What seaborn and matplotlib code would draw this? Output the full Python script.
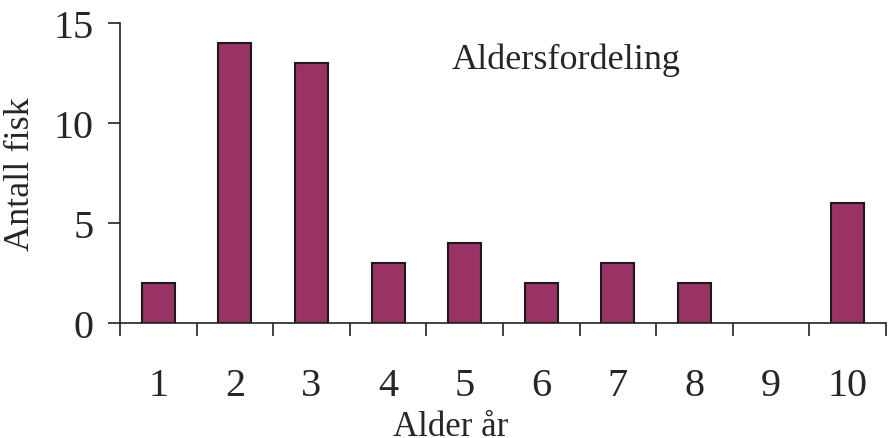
import matplotlib
matplotlib.use("Agg")
import matplotlib.pyplot as plt
import seaborn as sns
import pandas as pd
import numpy as np

ages = ["1", "2", "3", "4", "5", "6", "7", "8", "9", "10"]
counts = [2, 14, 13, 3, 4, 2, 3, 2, 0, 6]
yticks = [0, 5, 10, 15]
title = "Aldersfordeling"
xlabel = "Alder år"
ylabel = "Antall fisk"

sns.set_style("ticks")
plt.rcParams['font.family'] = ['Liberation Serif', 'DejaVu Serif']

df = pd.DataFrame({"age": ages, "count": counts})

fig = plt.figure(figsize=(8.88, 4.39), dpi=100)
ax = fig.add_axes([120/888, 1-324/439, (886-120)/888, 300/439])

sns.barplot(data=df, x="age", y="count", order=ages, color="#993366",
            saturation=1, width=0.43, edgecolor="#1a1a1a", linewidth=1.5, ax=ax)
for p in ax.patches:
    if p.get_height() == 0:
        p.set_visible(False)

ax.set_xlim(-0.5, len(ages) - 0.5)
ax.set_ylim(0, 15)
ax.set_yticks(yticks)
ax.set_yticklabels([str(t) for t in yticks], fontsize=29)
ax.set_xticks(range(len(ages)))
ax.set_xticklabels(ages, fontsize=29)
ax.set_xticks(np.arange(-0.5, len(ages)), minor=True)
ax.tick_params(axis="x", which="major", length=0, pad=32)
ax.tick_params(axis="x", which="minor", length=9, width=1.2, direction="out", color="#222222")
ax.tick_params(axis="y", length=9, width=1.2, direction="out", color="#222222", pad=10)

for s in ["top", "right"]:
    ax.spines[s].set_visible(False)
for s in ["left", "bottom"]:
    ax.spines[s].set_linewidth(1.2)
    ax.spines[s].set_color("#222222")

ax.set_xlabel(xlabel, fontsize=25, labelpad=0)
ax.xaxis.set_label_coords(0.431, -0.29)
ax.set_ylabel(ylabel, fontsize=26)
ax.yaxis.set_label_coords(-0.108, 0.5)

ax.text(0.583, 0.88, title, transform=ax.transAxes, ha="center", va="center", fontsize=26)

fig.savefig("out.png", dpi=100)
